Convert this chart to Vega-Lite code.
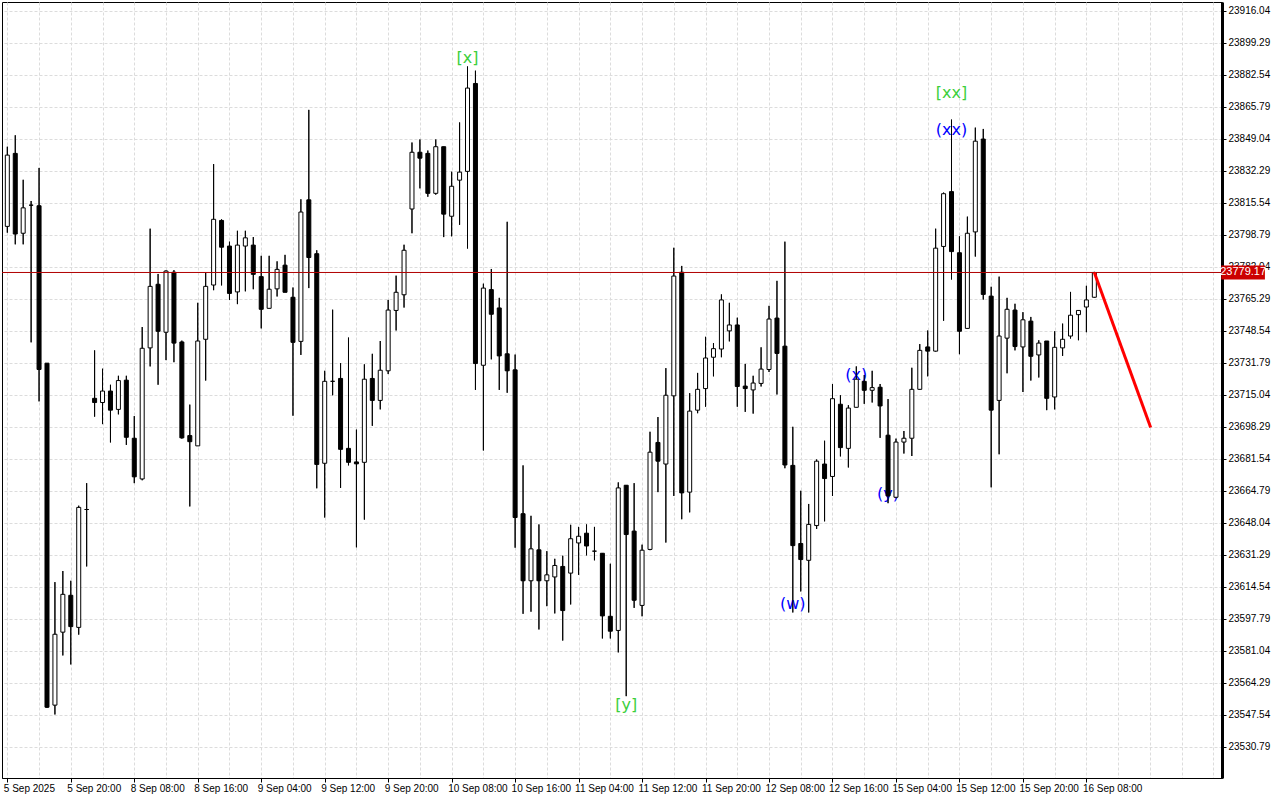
{
 "$schema": "https://vega.github.io/schema/vega-lite/v6.json",
 "width": 1220, "height": 776,
 "autosize": {"type": "none"},
 "padding": {"left": 2, "top": 2, "right": 58, "bottom": 22},
 "background": "white",
 "config": {
  "view": {"stroke": "black", "strokeWidth": 1},
  "axis": {"labelFont": "Liberation Sans", "labelFontSize": 10, "labelColor": "black", "domainColor": "black", "tickColor": "black", "gridColor": "#dcdcdc", "gridDash": [3, 2], "gridWidth": 1, "labelOverlap": false, "labelBound": false}
 },
 "datasets": {
  "candles": [
   {"i":0,"o":23803.3,"h":23845.0,"l":23800.0,"c":23840.6},
   {"i":1,"o":23841.5,"h":23851.0,"l":23793.9,"c":23799.3},
   {"i":2,"o":23799.7,"h":23827.7,"l":23793.9,"c":23813.0},
   {"i":3,"o":23814.4,"h":23816.6,"l":23742.6,"c":23814.4},
   {"i":4,"o":23814.1,"h":23833.9,"l":23711.7,"c":23728.4},
   {"i":5,"o":23731.7,"h":23731.7,"l":23551.2,"c":23551.6},
   {"i":6,"o":23552.7,"h":23617.1,"l":23547.8,"c":23589.8},
   {"i":7,"o":23590.9,"h":23622.9,"l":23578.7,"c":23610.7},
   {"i":8,"o":23610.2,"h":23617.8,"l":23574.0,"c":23593.8},
   {"i":9,"o":23593.4,"h":23657.1,"l":23589.6,"c":23656.2},
   {"i":10,"o":23655.1,"h":23668.9,"l":23625.3,"c":23655.1},
   {"i":11,"o":23713.3,"h":23738.4,"l":23703.7,"c":23711.1},
   {"i":12,"o":23711.1,"h":23728.8,"l":23699.8,"c":23717.1},
   {"i":13,"o":23717.1,"h":23720.4,"l":23690.2,"c":23707.1},
   {"i":14,"o":23707.5,"h":23725.1,"l":23704.9,"c":23722.6},
   {"i":15,"o":23722.8,"h":23725.1,"l":23688.9,"c":23692.9},
   {"i":16,"o":23692.4,"h":23704.0,"l":23668.9,"c":23672.2},
   {"i":17,"o":23671.1,"h":23750.6,"l":23670.4,"c":23739.5},
   {"i":18,"o":23739.7,"h":23802.1,"l":23730.0,"c":23771.9},
   {"i":19,"o":23773.0,"h":23778.4,"l":23720.4,"c":23748.4},
   {"i":20,"o":23747.9,"h":23780.3,"l":23733.3,"c":23779.9},
   {"i":21,"o":23779.3,"h":23780.4,"l":23732.2,"c":23742.2},
   {"i":22,"o":23742.8,"h":23743.5,"l":23692.2,"c":23692.6},
   {"i":23,"o":23693.8,"h":23710.0,"l":23656.7,"c":23690.6},
   {"i":24,"o":23688.4,"h":23763.3,"l":23688.4,"c":23743.3},
   {"i":25,"o":23744.2,"h":23779.0,"l":23722.6,"c":23771.9},
   {"i":26,"o":23772.6,"h":23835.9,"l":23769.9,"c":23807.0},
   {"i":27,"o":23806.4,"h":23807.0,"l":23772.4,"c":23792.4},
   {"i":28,"o":23793.0,"h":23795.3,"l":23764.8,"c":23768.2},
   {"i":29,"o":23769.0,"h":23801.0,"l":23762.6,"c":23793.5},
   {"i":30,"o":23793.0,"h":23801.0,"l":23769.3,"c":23797.3},
   {"i":31,"o":23793.5,"h":23797.7,"l":23770.4,"c":23778.2},
   {"i":32,"o":23777.0,"h":23787.9,"l":23749.9,"c":23759.9},
   {"i":33,"o":23760.4,"h":23787.9,"l":23760.4,"c":23770.4},
   {"i":34,"o":23770.6,"h":23785.0,"l":23766.6,"c":23780.8},
   {"i":35,"o":23783.0,"h":23788.4,"l":23768.8,"c":23768.8},
   {"i":36,"o":23766.2,"h":23771.3,"l":23704.2,"c":23742.6},
   {"i":37,"o":23743.1,"h":23817.5,"l":23736.0,"c":23810.8},
   {"i":38,"o":23817.2,"h":23864.3,"l":23771.0,"c":23787.0},
   {"i":39,"o":23789.0,"h":23790.8,"l":23666.2,"c":23678.7},
   {"i":40,"o":23679.3,"h":23727.7,"l":23650.9,"c":23722.2},
   {"i":41,"o":23722.2,"h":23759.7,"l":23714.9,"c":23722.2},
   {"i":42,"o":23723.7,"h":23731.7,"l":23666.4,"c":23686.6},
   {"i":43,"o":23687.1,"h":23745.1,"l":23678.2,"c":23679.8},
   {"i":44,"o":23680.0,"h":23696.9,"l":23635.3,"c":23679.0},
   {"i":45,"o":23679.8,"h":23731.1,"l":23649.8,"c":23723.3},
   {"i":46,"o":23723.7,"h":23736.6,"l":23698.9,"c":23712.2},
   {"i":47,"o":23712.2,"h":23743.3,"l":23707.5,"c":23728.0},
   {"i":48,"o":23727.7,"h":23764.8,"l":23726.0,"c":23759.5},
   {"i":49,"o":23759.3,"h":23777.5,"l":23748.8,"c":23768.8},
   {"i":50,"o":23767.5,"h":23793.7,"l":23760.8,"c":23790.8},
   {"i":51,"o":23812.4,"h":23847.2,"l":23799.7,"c":23842.1},
   {"i":52,"o":23842.1,"h":23848.8,"l":23823.2,"c":23839.0},
   {"i":53,"o":23841.5,"h":23843.0,"l":23818.8,"c":23820.6},
   {"i":54,"o":23820.6,"h":23848.8,"l":23819.9,"c":23845.0},
   {"i":55,"o":23845.0,"h":23845.0,"l":23797.7,"c":23809.7},
   {"i":56,"o":23808.6,"h":23831.9,"l":23798.1,"c":23824.3},
   {"i":57,"o":23827.5,"h":23857.7,"l":23804.1,"c":23831.7},
   {"i":58,"o":23832.1,"h":23887.0,"l":23791.7,"c":23875.7},
   {"i":59,"o":23878.1,"h":23884.8,"l":23717.7,"c":23731.5},
   {"i":60,"o":23730.6,"h":23773.3,"l":23686.0,"c":23771.0},
   {"i":61,"o":23770.2,"h":23781.0,"l":23733.7,"c":23757.3},
   {"i":62,"o":23760.6,"h":23765.9,"l":23717.7,"c":23735.5},
   {"i":63,"o":23736.6,"h":23805.7,"l":23716.2,"c":23727.7},
   {"i":64,"o":23728.2,"h":23736.2,"l":23635.1,"c":23650.9},
   {"i":65,"o":23652.9,"h":23678.2,"l":23600.5,"c":23617.8},
   {"i":66,"o":23617.8,"h":23651.8,"l":23601.6,"c":23634.5},
   {"i":67,"o":23634.0,"h":23647.3,"l":23592.3,"c":23617.8},
   {"i":68,"o":23617.8,"h":23633.3,"l":23604.5,"c":23620.9},
   {"i":69,"o":23619.8,"h":23629.3,"l":23600.7,"c":23625.8},
   {"i":70,"o":23625.3,"h":23630.9,"l":23586.5,"c":23602.2},
   {"i":71,"o":23621.8,"h":23647.1,"l":23605.4,"c":23639.8},
   {"i":72,"o":23637.6,"h":23646.0,"l":23620.9,"c":23641.1},
   {"i":73,"o":23642.7,"h":23647.3,"l":23631.1,"c":23636.0},
   {"i":74,"o":23633.3,"h":23646.0,"l":23628.5,"c":23633.3},
   {"i":75,"o":23632.2,"h":23632.2,"l":23587.6,"c":23599.4},
   {"i":76,"o":23599.2,"h":23626.7,"l":23587.6,"c":23591.4},
   {"i":77,"o":23591.8,"h":23669.3,"l":23580.3,"c":23666.4},
   {"i":78,"o":23667.8,"h":23667.8,"l":23557.4,"c":23642.0},
   {"i":79,"o":23643.8,"h":23668.9,"l":23603.6,"c":23607.6},
   {"i":80,"o":23604.9,"h":23636.7,"l":23599.2,"c":23633.8},
   {"i":81,"o":23634.2,"h":23695.8,"l":23633.8,"c":23685.1},
   {"i":82,"o":23690.2,"h":23703.5,"l":23664.2,"c":23680.4},
   {"i":83,"o":23678.9,"h":23729.1,"l":23637.8,"c":23714.9},
   {"i":84,"o":23714.6,"h":23792.1,"l":23662.2,"c":23777.3},
   {"i":85,"o":23779.3,"h":23782.6,"l":23650.0,"c":23663.8},
   {"i":86,"o":23664.2,"h":23716.0,"l":23653.6,"c":23706.6},
   {"i":87,"o":23707.1,"h":23726.6,"l":23705.5,"c":23718.0},
   {"i":88,"o":23718.4,"h":23745.5,"l":23708.9,"c":23734.4},
   {"i":89,"o":23734.8,"h":23742.2,"l":23724.8,"c":23739.3},
   {"i":90,"o":23739.1,"h":23767.7,"l":23734.8,"c":23764.8},
   {"i":91,"o":23748.6,"h":23763.3,"l":23743.1,"c":23751.7},
   {"i":92,"o":23751.7,"h":23755.5,"l":23708.9,"c":23719.5},
   {"i":93,"o":23719.7,"h":23731.3,"l":23706.2,"c":23718.4},
   {"i":94,"o":23717.7,"h":23725.1,"l":23705.3,"c":23721.3},
   {"i":95,"o":23721.1,"h":23740.0,"l":23719.5,"c":23728.6},
   {"i":96,"o":23728.4,"h":23761.7,"l":23727.1,"c":23754.8},
   {"i":97,"o":23755.3,"h":23774.8,"l":23715.3,"c":23736.8},
   {"i":98,"o":23740.6,"h":23795.3,"l":23676.7,"c":23678.4},
   {"i":99,"o":23678.2,"h":23698.4,"l":23601.2,"c":23636.2},
   {"i":100,"o":23637.3,"h":23664.9,"l":23612.2,"c":23628.9},
   {"i":101,"o":23628.5,"h":23658.0,"l":23601.2,"c":23647.3},
   {"i":102,"o":23646.7,"h":23681.3,"l":23644.9,"c":23680.4},
   {"i":103,"o":23678.9,"h":23691.1,"l":23648.9,"c":23671.3},
   {"i":104,"o":23672.4,"h":23720.8,"l":23662.2,"c":23713.1},
   {"i":105,"o":23710.2,"h":23714.9,"l":23682.9,"c":23687.5},
   {"i":106,"o":23687.1,"h":23709.7,"l":23677.1,"c":23708.2},
   {"i":107,"o":23708.6,"h":23730.0,"l":23708.6,"c":23723.3},
   {"i":108,"o":23722.2,"h":23725.5,"l":23710.4,"c":23717.5},
   {"i":109,"o":23717.5,"h":23727.7,"l":23711.1,"c":23718.9},
   {"i":110,"o":23719.1,"h":23720.8,"l":23692.6,"c":23709.3},
   {"i":111,"o":23694.0,"h":23712.9,"l":23658.4,"c":23662.2},
   {"i":112,"o":23661.5,"h":23692.2,"l":23661.0,"c":23690.4},
   {"i":113,"o":23690.4,"h":23696.2,"l":23684.4,"c":23692.4},
   {"i":114,"o":23692.4,"h":23729.3,"l":23683.1,"c":23718.0},
   {"i":115,"o":23718.0,"h":23741.7,"l":23717.8,"c":23738.4},
   {"i":116,"o":23740.2,"h":23748.8,"l":23724.8,"c":23738.0},
   {"i":117,"o":23738.0,"h":23802.1,"l":23737.8,"c":23791.9},
   {"i":118,"o":23792.8,"h":23821.0,"l":23753.9,"c":23820.4},
   {"i":119,"o":23821.5,"h":23859.2,"l":23775.5,"c":23790.1},
   {"i":120,"o":23789.5,"h":23798.1,"l":23736.4,"c":23748.4},
   {"i":121,"o":23749.9,"h":23808.4,"l":23749.9,"c":23799.7},
   {"i":122,"o":23800.4,"h":23855.0,"l":23787.5,"c":23847.9},
   {"i":123,"o":23849.0,"h":23854.3,"l":23765.0,"c":23767.7},
   {"i":124,"o":23766.8,"h":23771.7,"l":23666.7,"c":23707.1},
   {"i":125,"o":23712.2,"h":23777.0,"l":23684.0,"c":23745.9},
   {"i":126,"o":23744.8,"h":23765.9,"l":23726.4,"c":23759.9},
   {"i":127,"o":23759.5,"h":23762.8,"l":23738.4,"c":23740.4},
   {"i":128,"o":23740.2,"h":23758.4,"l":23716.6,"c":23754.4},
   {"i":129,"o":23753.7,"h":23755.9,"l":23722.6,"c":23735.3},
   {"i":130,"o":23736.0,"h":23743.7,"l":23724.2,"c":23742.2},
   {"i":131,"o":23743.3,"h":23743.3,"l":23707.1,"c":23713.3},
   {"i":132,"o":23714.0,"h":23748.4,"l":23707.5,"c":23740.0},
   {"i":133,"o":23739.7,"h":23752.4,"l":23735.5,"c":23744.2},
   {"i":134,"o":23745.9,"h":23769.0,"l":23744.6,"c":23756.8},
   {"i":135,"o":23757.1,"h":23759.3,"l":23743.7,"c":23759.3},
   {"i":136,"o":23761.1,"h":23772.2,"l":23747.9,"c":23764.8},
   {"i":137,"o":23766.2,"h":23779.5,"l":23766.0,"c":23779.17}
  ],
  "waves": [
   {"i":58,"p":23891.4,"t":"[x]","k":"bracket"},
   {"i":78,"p":23552.8,"t":"[y]","k":"bracket"},
   {"i":119,"p":23873.1,"t":"[xx]","k":"bracket"},
   {"i":119,"p":23853.7,"t":"(xx)","k":"paren"},
   {"i":99,"p":23605.6,"t":"(w)","k":"paren"},
   {"i":107,"p":23725.5,"t":"(x)","k":"paren"},
   {"i":111,"p":23663.2,"t":"(y)","k":"paren"}
  ],
  "trend": [
   {"i":137,"p":23779.17},
   {"i":144.1,"p":23698.0}
  ],
  "last": [
   {"p":23779.17,"t":"23779.17"}
  ]
 },
 "layer": [
  {
   "data": {"name": "candles"},
   "mark": {"type": "rule", "color": "black", "strokeWidth": 1, "clip": true},
   "encoding": {
    "x": {"field": "i", "type": "quantitative",
     "scale": {"domain": [-0.04, 152.46], "nice": false, "zero": false},
     "axis": {"orient": "bottom", "title": null, "grid": true, "tickCount": 200,
      "values": [0,4,8,12,16,20,24,28,32,36,40,44,48,52,56,60,64,68,72,76,80,84,88,92,96,100,104,108,112,116,120,124,128,132,136,140,144,148,152],
      "labelExpr": "(datum.value % 8 === 0 && datum.value <= 136) ? ['5 Sep 2025','5 Sep 20:00','8 Sep 08:00','8 Sep 16:00','9 Sep 04:00','9 Sep 12:00','9 Sep 20:00','10 Sep 08:00','10 Sep 16:00','11 Sep 04:00','11 Sep 12:00','11 Sep 20:00','12 Sep 08:00','12 Sep 16:00','15 Sep 04:00','15 Sep 12:00','15 Sep 20:00','16 Sep 08:00'][datum.value / 8] : ''",
      "labelAlign": "left", "labelBaseline": "top", "labelPadding": 1, "labelOffset": -4,
      "labelOverlap": false, "labelFlush": false, "tickSize": 4,
      "tickOpacity": {"condition": {"test": "datum.value % 8 === 0 && datum.value <= 136", "value": 1}, "value": 0},
      "domainWidth": 1}
    },
    "y": {"field": "l", "type": "quantitative",
     "scale": {"domain": [23514.56, 23920.75], "nice": false, "zero": false},
     "axis": {"orient": "right", "title": null, "grid": true, "tickCount": 200,
      "values": [23530.79,23547.54,23564.29,23581.04,23597.79,23614.54,23631.29,23648.04,23664.79,23681.54,23698.29,23715.04,23731.79,23748.54,23765.29,23782.04,23798.79,23815.54,23832.29,23849.04,23865.79,23882.54,23899.29,23916.04],
      "format": ".2f", "tickSize": 4, "labelPadding": 2, "labelOverlap": false, "labelBaseline": "middle", "domainWidth": 3}
    },
    "y2": {"field": "h"}
   }
  },
  {
   "data": {"name": "waves"},
   "mark": {"type": "text", "font": "DejaVu Sans", "fontSize": 16, "align": "center", "baseline": "middle"},
   "encoding": {
    "x": {"field": "i", "type": "quantitative", "scale": {"domain": [-0.04, 152.46], "nice": false, "zero": false}},
    "y": {"field": "p", "type": "quantitative", "scale": {"domain": [23514.56, 23920.75], "nice": false, "zero": false}},
    "text": {"field": "t"},
    "color": {"field": "k", "type": "nominal", "scale": {"domain": ["bracket", "paren"], "range": ["#3ccf3c", "#0000ff"]}, "legend": null}
   }
  },
  {
   "data": {"name": "candles"},
   "mark": {"type": "rule", "color": "black", "strokeWidth": 1, "clip": true},
   "encoding": {
    "x": {"field": "i", "type": "quantitative", "scale": {"domain": [-0.04, 152.46], "nice": false, "zero": false}},
    "y": {"field": "l", "type": "quantitative", "scale": {"domain": [23514.56, 23920.75], "nice": false, "zero": false}},
    "y2": {"field": "h"}
   }
  },
  {
   "data": {"name": "candles"},
   "mark": {"type": "bar", "size": 4, "stroke": "black", "strokeWidth": 1, "clip": true},
   "encoding": {
    "x": {"field": "i", "type": "quantitative", "scale": {"domain": [-0.04, 152.46], "nice": false, "zero": false}},
    "y": {"field": "o", "type": "quantitative", "scale": {"domain": [23514.56, 23920.75], "nice": false, "zero": false}},
    "y2": {"field": "c"},
    "fill": {"condition": {"test": "datum.c >= datum.o", "value": "white"}, "value": "black"}
   }
  },
  {
   "data": {"name": "last"},
   "mark": {"type": "rule", "color": "#b00000", "strokeWidth": 1},
   "encoding": {
    "y": {"field": "p", "type": "quantitative", "scale": {"domain": [23514.56, 23920.75], "nice": false, "zero": false}}
   }
  },
  {
   "data": {"name": "trend"},
   "mark": {"type": "line", "color": "#ff0000", "strokeWidth": 3},
   "encoding": {
    "x": {"field": "i", "type": "quantitative", "scale": {"domain": [-0.04, 152.46], "nice": false, "zero": false}},
    "y": {"field": "p", "type": "quantitative", "scale": {"domain": [23514.56, 23920.75], "nice": false, "zero": false}}
   }
  },
  {
   "data": {"name": "last"},
   "mark": {"type": "rect", "color": "#cc0000", "clip": false},
   "encoding": {
    "x": {"datum": 153.0, "type": "quantitative", "scale": {"domain": [-0.04, 152.46], "nice": false, "zero": false}},
    "x2": {"datum": 158.5},
    "y": {"datum": 23782.8, "type": "quantitative", "scale": {"domain": [23514.56, 23920.75], "nice": false, "zero": false}},
    "y2": {"datum": 23775.5}
   }
  },
  {
   "data": {"name": "last"},
   "mark": {"type": "text", "color": "white", "font": "Liberation Sans", "fontSize": 11, "align": "center", "baseline": "middle", "clip": false},
   "encoding": {
    "x": {"datum": 155.75, "type": "quantitative", "scale": {"domain": [-0.04, 152.46], "nice": false, "zero": false}},
    "y": {"field": "p", "type": "quantitative", "scale": {"domain": [23514.56, 23920.75], "nice": false, "zero": false}},
    "text": {"field": "t"}
   }
  }
 ]
}
